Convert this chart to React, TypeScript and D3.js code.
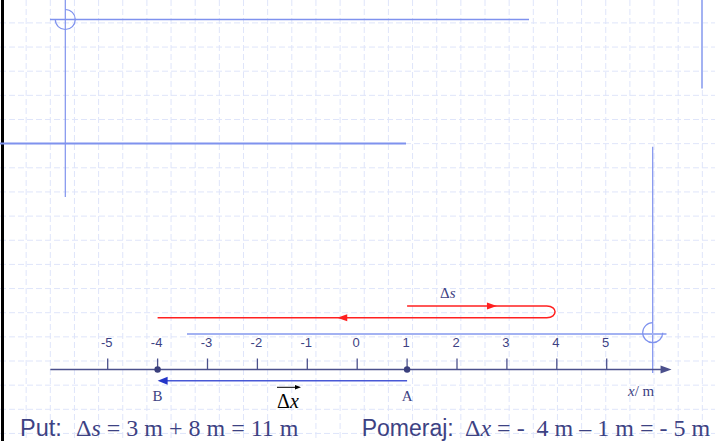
import React from "react";
import * as d3 from "d3";

// axis values (m)
const tickValues = [-5, -4, -3, -2, -1, 0, 1, 2, 3, 4, 5];
const tickLabels = ["-5", "-4", "-3", "-2", "-1", "0", "1", "2", "3", "4", "5"];
const axisExtent = [-6.15, 6.3];

// points on the axis
const pointNames = ["A", "B"];
const pointValues = [1, -4];

// path travelled (Δs): start at A, turn at 4, end at B
const pathStart = 1;
const pathTurn = 4;
const pathEnd = -4;
const pathArrowValues = [2.7, -0.3];

const putLabel = "Put:";
const pomerajLabel = "Pomeraj:";

const W = 715;
const H = 441;
const NAVY = "#3d4283";
const AXIS = "#4b508c";
const DECO = "#7f92ee";
const DECO_LIGHT = "#a3b2f2";

const App: React.FC = () => {
  const x = d3.scaleLinear().domain([-5, 5]).range([107.7, 606.7]);
  const axisY = 369.5;

  // background grid
  const gx = d3.range(2, W, 24.15);
  const gy = d3.range(22.9, H, 24.15);

  const upperY = 306;
  const lowerY = 317.7;
  const turnX = x(pathTurn);
  const rx = 10;
  const redPath = d3.path();
  redPath.moveTo(x(pathStart), upperY);
  redPath.lineTo(turnX - rx, upperY);
  redPath.bezierCurveTo(turnX + 1, upperY, turnX + 1, lowerY, turnX - rx, lowerY);
  redPath.lineTo(x(pathEnd), lowerY);

  const dxY = 380.7;
  const xA = x(pointValues[0]);
  const xB = x(pointValues[1]);

  const serif = "'Liberation Serif', 'Times New Roman', serif";
  const sans = "'Liberation Sans', Arial, sans-serif";

  return (
    <svg
      width={W}
      height={H}
      style={{ position: "absolute", left: 0, top: 0, background: "#fff" }}
    >
      {/* grid */}
      <g stroke="#dfe5fa" strokeWidth={1} strokeDasharray="6 3">
        {gx.map((v, i) => (
          <line key={"gx" + i} x1={v} x2={v} y1={0} y2={H} />
        ))}
        {gy.map((v, i) => (
          <line key={"gy" + i} x1={0} x2={W} y1={v} y2={v} />
        ))}
      </g>

      {/* slide template decoration */}
      <line x1={2.5} x2={2.5} y1={0} y2={H} stroke="#000" strokeWidth={3} />
      <line x1={65.3} x2={65.3} y1={0} y2={197} stroke={DECO} strokeWidth={1.2} />
      <line x1={50} x2={529} y1={19.5} y2={19.5} stroke={DECO} strokeWidth={1.5} />
      <path
        d="M65.3,9.5 A10,10 0 1 1 55.3,19.5"
        fill="none"
        stroke={DECO}
        strokeWidth={1.2}
      />
      <line x1={0} x2={406} y1={143.5} y2={143.5} stroke={DECO} strokeWidth={1.8} />
      <line x1={702} x2={702} y1={0} y2={88.5} stroke={DECO_LIGHT} strokeWidth={2} />
      <line x1={652.7} x2={652.7} y1={146.7} y2={373} stroke={DECO} strokeWidth={1.2} />
      <line x1={187} x2={666.5} y1={334} y2={334} stroke={DECO_LIGHT} strokeWidth={2} />
      <path
        d="M662.7,332.7 A10,10 0 1 1 652.7,322.7"
        fill="none"
        stroke={DECO}
        strokeWidth={1.2}
      />

      {/* red path Δs */}
      <path d={redPath.toString()} fill="none" stroke="#ff2020" strokeWidth={1.5} />
      {pathArrowValues.map((v, i) => {
        const ax = x(v);
        const ay = i === 0 ? upperY : lowerY;
        const dir = i === 0 ? 1 : -1;
        return (
          <path
            key={"ra" + i}
            d={`M${ax + dir * 5},${ay} L${ax - dir * 5},${ay - 3.5} L${ax - dir * 5},${ay + 3.5} Z`}
            fill="#ff2020"
          />
        );
      })}
      <text x={440} y={298} fontFamily={serif} fontSize={15} fill={NAVY}>
        Δ<tspan fontStyle="italic">s</tspan>
      </text>

      {/* x axis */}
      <line
        x1={x(axisExtent[0])}
        x2={x(axisExtent[1]) - 8}
        y1={axisY}
        y2={axisY}
        stroke={AXIS}
        strokeWidth={1.5}
      />
      <path
        d={`M${x(axisExtent[1])},${axisY} L${x(axisExtent[1]) - 11},${axisY - 4} L${x(axisExtent[1]) - 11},${axisY + 4} Z`}
        fill={AXIS}
      />
      {tickValues.map((v, i) => (
        <g key={"t" + i}>
          <line
            x1={x(v)}
            x2={x(v)}
            y1={axisY - 11}
            y2={axisY}
            stroke={AXIS}
            strokeWidth={1.3}
          />
          <text
            x={x(v) - 1}
            y={347}
            textAnchor="middle"
            fontFamily={sans}
            fontSize={13}
            fill={NAVY}
          >
            {tickLabels[i]}
          </text>
        </g>
      ))}
      <text x={628} y={396} fontFamily={serif} fontSize={15} fill={NAVY}>
        <tspan fontStyle="italic">x</tspan>/ m
      </text>

      {/* displacement arrow Δx */}
      <line x1={xA} x2={xB + 8} y1={dxY} y2={dxY} stroke="#4858d6" strokeWidth={1.5} />
      <path
        d={`M${xB},${dxY} L${xB + 10},${dxY - 4} L${xB + 10},${dxY + 4} Z`}
        fill="#2435c8"
      />
      <line x1={277} x2={296} y1={387.3} y2={387.3} stroke="#000" strokeWidth={1} />
      <path d="M301,387.3 L295,385 L295,389.6 Z" fill="#000" />
      <text x={277} y={408} fontFamily={serif} fontSize={20} fill="#000">
        Δ<tspan fontStyle="italic">x</tspan>
      </text>

      {/* points A, B */}
      {pointValues.map((v, i) => (
        <g key={"p" + i}>
          <circle cx={x(v)} cy={axisY} r={3.2} fill="#3a3f7c" />
          <text
            x={x(v)}
            y={401}
            textAnchor="middle"
            fontFamily={serif}
            fontSize={15}
            fill={NAVY}
          >
            {pointNames[i]}
          </text>
        </g>
      ))}

      {/* equations */}
      <text y={436} fill={NAVY} style={{ whiteSpace: "pre" }}>
        <tspan x={20} fontFamily={sans} fontSize={23.5}>
          {putLabel}
        </tspan>
        <tspan x={76} fontFamily={serif} fontSize={24}>
          Δ<tspan fontStyle="italic">s</tspan>
          {" = 3 m + 8 m = 11 m"}
        </tspan>
      </text>
      <text y={436} fill={NAVY} style={{ whiteSpace: "pre" }}>
        <tspan x={361.7} fontFamily={sans} fontSize={23}>
          {pomerajLabel}
        </tspan>
        <tspan x={465} fontFamily={serif} fontSize={24}>
          Δ<tspan fontStyle="italic">x</tspan>
          {" = -  4 m – 1 m = - 5 m"}
        </tspan>
      </text>
    </svg>
  );
};

export default App;
